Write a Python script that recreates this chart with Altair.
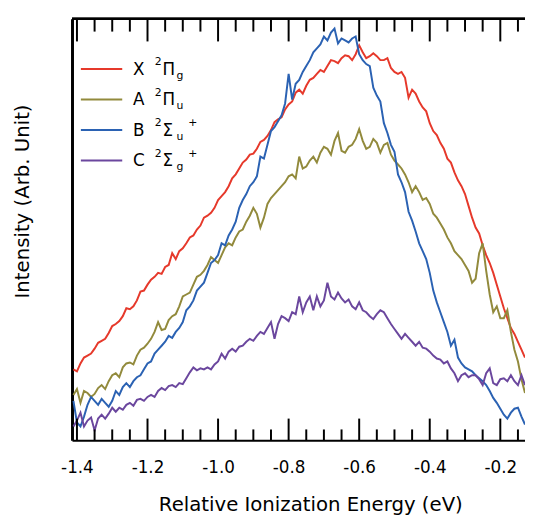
import altair as alt
import pandas as pd

# ---------------- data ----------------
energy_start = -1.41
energy_step = 0.01

series_names = ["X", "A", "B", "C"]
series_colors = ["#e6392b", "#928a3c", "#2b62b3", "#6b479e"]

x_state = [
    72, 70, 78, 84, 86, 88, 93, 99, 101, 103,
    109, 116, 118, 121, 126, 134, 133, 136, 142, 151,
    152, 158, 163, 166, 170, 169, 176, 178, 190, 184,
    192, 195, 200, 206, 208, 214, 218, 226, 228, 231,
    236, 244, 248, 252, 258, 266, 270, 276, 282, 285,
    290, 291, 296, 303, 305, 309, 315, 323, 326, 328,
    336, 341, 344, 353, 356, 352, 360, 366, 368, 372,
    376, 374, 380, 386, 385, 383, 388, 391, 390, 386,
    392, 401, 394, 388, 390, 393, 390, 386, 386, 388,
    378, 374, 372, 374, 368, 348, 356, 352, 344, 338,
    334, 322, 314, 310, 302, 296, 286, 282, 272, 264,
    258, 250, 238, 226, 216, 210, 198, 188, 180, 170,
    158, 146, 134, 124, 114, 108, 100, 92, 84,
]
a_state = [
    46, 52, 38, 50, 48, 44, 47, 53, 56, 52,
    60, 66, 68, 64, 74, 78, 79, 77, 86, 92,
    94, 98, 103, 110, 120, 112, 113, 122, 126, 128,
    136, 146, 148, 150, 158, 166, 168, 172, 178, 186,
    183, 180, 188, 196, 200, 198, 206, 212, 214, 222,
    228, 236, 230, 216, 226, 240, 246, 250, 254, 258,
    262, 268, 270, 266, 288, 276, 278, 284, 288, 282,
    292, 298, 296, 290, 304, 312, 294, 292, 298, 300,
    306, 316, 304, 296, 298, 306, 302, 292, 300, 302,
    290, 284, 280, 276, 270, 262, 252, 258, 252, 244,
    246, 240, 230, 226, 220, 214, 206, 200, 192, 188,
    184, 178, 172, 160, 164, 190, 200, 172, 148, 130,
    136, 124, 124, 132, 110, 92, 80, 62, 48,
]
b_state = [
    40, 18, 14, 24, 36, 44, 40, 36, 42, 38,
    34, 40, 50, 46, 54, 58, 54, 60, 64, 66,
    72, 78, 80, 88, 92, 96, 100, 106, 104, 110,
    114, 120, 132, 136, 142, 152, 156, 160, 170, 180,
    183, 188, 200, 198, 208, 214, 222, 236, 244, 250,
    258, 262, 268, 288, 286, 300, 314, 318, 324, 330,
    342, 372, 346, 362, 366, 374, 380, 386, 394, 398,
    402, 410, 406, 414, 418, 403, 408, 406, 404, 408,
    410, 392, 386, 382, 380, 358, 350, 344, 322, 312,
    300, 293, 270, 262, 252, 232, 223, 212, 200, 192,
    184, 170, 152, 140, 130, 120, 110, 96, 102, 84,
    78, 74, 72, 70, 66, 63, 60, 56, 50, 43,
    38, 32, 26, 22, 28, 32, 33, 24, 16,
]
c_state = [
    14, 20, 28, 14, 20, 23, 10, 22, 26, 22,
    27, 33, 29, 33, 31, 36, 38, 35, 41, 42,
    40, 44, 46, 44, 50, 53, 51, 55, 56, 54,
    58, 57, 63, 69, 74, 71, 73, 72, 74, 72,
    77, 80, 88, 83, 90, 93, 90, 95, 96, 100,
    103, 101, 106, 110, 108, 114, 120, 103, 118, 126,
    124, 121, 130, 128, 146, 130, 140, 146, 132, 146,
    136, 142, 160, 146, 143, 150, 144, 140, 143, 136,
    133, 140, 132, 130, 126, 123, 128, 132, 130, 124,
    118, 113, 108, 103, 108, 104, 100, 96, 100, 94,
    93, 90, 86, 83, 82, 78, 80, 73, 68, 60,
    66, 68, 64, 66, 66, 62, 56, 68, 73, 58,
    56, 62, 63, 60, 66, 60, 56, 66, 56,
]

x_major = [-1.4, -1.2, -1.0, -0.8, -0.6, -0.4, -0.2]
x_minor = [-1.35, -1.3, -1.25, -1.15, -1.1, -1.05, -0.95, -0.9, -0.85,
           -0.75, -0.7, -0.65, -0.55, -0.5, -0.45, -0.35, -0.3, -0.25, -0.15]

legend_main = ["X", "A", "B", "C"]
legend_greek = ["Π", "Π", "Σ", "Σ"]
legend_sub = ["g", "u", "u", "g"]
legend_plus = ["", "", "+", "+"]

# ---------------- tables ----------------
W, H = 460, 428
X0, X1 = -1.414, -0.13
HALF = (X1 - X0) / W  # one pixel, in eV, used for the tick width

rows = []
for name, colr, vals in zip(series_names, series_colors, [x_state, a_state, b_state, c_state]):
    for i, v in enumerate(vals):
        rows.append({"key": name, "col": colr, "energy": round(energy_start + energy_step * i, 3),
                     "intensity": v})
df = pd.DataFrame(rows)

tick_rows = []
for vals, lo, hi in [(x_major, 0, 22), (x_minor, 0, 11), (x_major, H, H - 23), (x_minor, H, H - 13)]:
    for v in vals:
        tick_rows.append({"v": v, "va": v - HALF, "vb": v + HALF, "y0": lo, "y1": hi})
ticks_df = pd.DataFrame(tick_rows)

leg_rows = []
for i in range(4):
    leg_rows.append({"col": series_colors[i], "main": legend_main[i], "greek": legend_greek[i],
                     "sub": legend_sub[i], "plus": legend_plus[i], "ly": H - (51 + 31 * i)})
leg = pd.DataFrame(leg_rows)

FONT = "DejaVu Sans"
xscale = alt.Scale(domain=[X0, X1], nice=False, zero=False)
yscale = alt.Scale(domain=[0, H], nice=False, zero=False)

x_axis = alt.Axis(
    values=x_major,
    labelExpr="datum.value < 0 ? '-' + format(-datum.value, '.1f') : format(datum.value, '.1f')",
    ticks=False, grid=False, domainColor="black", domainWidth=2,
    labelFont=FONT, labelFontSize=17, labelColor="black", labelPadding=20, labelFlush=False,
    title="Relative Ionization Energy (eV)", titleFont=FONT, titleFontSize=20,
    titleFontWeight="normal", titleColor="black", titleX=242, titleY=71,
    titleAlign="center", titleBaseline="alphabetic",
)
y_axis = alt.Axis(
    ticks=False, labels=False, grid=False, domainColor="black", domainWidth=3,
    title="Intensity (Arb. Unit)", titleFont=FONT, titleFontSize=20,
    titleFontWeight="normal", titleColor="black", titleAngle=270,
    titleX=-50, titleY=185, titleAlign="center", titleBaseline="middle",
)

lines = alt.Chart(df).mark_line(strokeWidth=2, clip=True).encode(
    x=alt.X("energy:Q", scale=xscale, axis=x_axis),
    y=alt.Y("intensity:Q", scale=yscale, axis=y_axis),
    color=alt.Color("col:N", scale=None),
    detail="key:N",
)

# inward ticks as thin filled rectangles (x from data through the x scale)
tick_rects = alt.Chart(ticks_df).mark_rect(color="black", opacity=1).encode(
    x=alt.X("va:Q", scale=xscale, axis=x_axis),
    x2="vb:Q",
    y=alt.Y("y0:Q", scale=yscale, axis=y_axis),
    y2="y1:Q",
)

top_line = alt.Chart(leg).mark_rule(strokeWidth=2, color="black").encode(
    x=alt.value(0), x2=alt.value(W), y=alt.value(0)
)

leg_base = alt.Chart(leg)
ly = alt.Y("ly:Q", scale=yscale, axis=y_axis)
leg_lines = leg_base.mark_rule(strokeWidth=2).encode(
    x=alt.value(9), x2=alt.value(51), y=ly,
    color=alt.Color("col:N", scale=None),
)
leg_main = leg_base.mark_text(align="left", baseline="alphabetic", font=FONT, fontSize=17, dy=6, color="black").encode(
    x=alt.value(62), y=ly, text="main:N")
leg_two = leg_base.mark_text(align="left", baseline="alphabetic", font=FONT, fontSize=11, dy=-4, color="black").encode(
    x=alt.value(84), y=ly, text=alt.value("2"))
leg_greek = leg_base.mark_text(align="left", baseline="alphabetic", font=FONT, fontSize=17, dy=6, color="black").encode(
    x=alt.value(92), y=ly, text="greek:N")
leg_sub = leg_base.mark_text(align="left", baseline="alphabetic", font=FONT, fontSize=11, dy=10, color="black").encode(
    x=alt.value(106), y=ly, text="sub:N")
leg_plus = leg_base.mark_text(align="left", baseline="alphabetic", font=FONT, fontSize=11, dy=-4, color="black").encode(
    x=alt.value(118), y=ly, text="plus:N")

chart = alt.layer(
    lines, tick_rects, top_line, leg_lines, leg_main, leg_two, leg_greek, leg_sub, leg_plus
).properties(
    width=W, height=H,
    autosize=alt.AutoSizeParams(type="none"),
    padding={"left": 65, "top": 7, "right": 0, "bottom": 75},
).configure_view(strokeWidth=0)

chart.save("out.html", embed_options={"renderer": "svg", "actions": False})
